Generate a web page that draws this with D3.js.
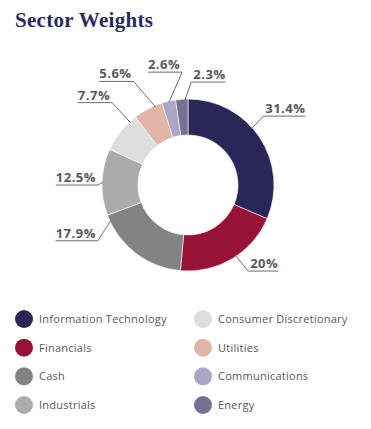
<!DOCTYPE html>
<html>
<head>
<meta charset="utf-8">
<script src="https://cdn.jsdelivr.net/npm/d3@7"></script>
<style>
  body { margin: 0; background: #fff; }
  svg { display: block; }
</style>
</head>
<body>
<svg id="chart"></svg>
<script>
// data
const sectors = ["Information Technology", "Financials", "Cash", "Industrials",
    "Consumer Discretionary", "Utilities", "Communications", "Energy"];
const weights = [31.4, 20, 17.9, 12.5, 7.7, 5.6, 2.6, 2.3];
const labels = ["31.4%", "20%", "17.9%", "12.5%", "7.7%", "5.6%", "2.6%", "2.3%"];
const colors = ["#2a2658", "#961237", "#838383", "#ababab",
    "#dedede", "#e1b5a8", "#aba6c3", "#77718f"];

// leader layout tweaks (degrees / px), so labels don't collide
const leaderShift = [-8, -3, 28, 0, 9, 5, 0, 2];
const leaderBend = [-1, -1, -7, -2, 0, -5, 10, 4];
const leaderRadius = [102, 105, 106, 90, 112, 117, 113, 103];

var width = 371, height = 429;
var cx = 188, cy = 185, outer = 86, inner = 50;

var svg = d3.select("#chart").attr("width", width).attr("height", height);

svg.append("text")
    .attr("x", 15)
    .attr("y", 27)
    .attr("fill", "#2b2a5c")
    .attr("font-family", "'Liberation Serif', serif")
    .attr("font-weight", "bold")
    .attr("font-size", 21)
    .attr("textLength", 138)
    .attr("lengthAdjust", "spacing")
    .text("Sector Weights");

var pie = d3.pie().sort(null).value(d => d)(weights);
var arc = d3.arc().innerRadius(inner).outerRadius(outer);

var g = svg.append("g").attr("transform", "translate(" + cx + "," + cy + ")");

g.selectAll("path.slice")
    .data(pie)
    .enter().append("path")
    .attr("class", "slice")
    .attr("d", arc)
    .attr("fill", (d, i) => colors[i])
    .attr("stroke", "#fff")
    .attr("stroke-width", 0.6);

function polar(deg, r) {
    var a = deg * Math.PI / 180;
    return [r * Math.sin(a), -r * Math.cos(a)];
}

var toDeg = 180 / Math.PI;
var lbl = g.selectAll("g.lbl").data(pie).enter().append("g").attr("class", "lbl");

lbl.each(function (d, i) {
    var sel = d3.select(this);
    var mid = (d.startAngle + d.endAngle) / 2 * toDeg;
    var a0 = mid + leaderShift[i];
    var p0 = polar(a0, outer - 1);
    var p1 = polar(a0 + leaderBend[i], leaderRadius[i]);
    var right = p1[0] > 0;

    var t = sel.append("text")
        .attr("x", p1[0] + (right ? 2 : -2))
        .attr("y", p1[1] - 3)
        .attr("text-anchor", right ? "start" : "end")
        .attr("fill", "#58585a")
        .attr("font-family", "'Open Sans', sans-serif")
        .attr("font-weight", "bold")
        .attr("font-size", 13)
        .attr("letter-spacing", 0.5)
        .text(labels[i]);
    var w = t.node().getComputedTextLength() + 2;

    sel.append("polyline")
        .attr("points", [p0, p1, [p1[0] + (right ? w : -w), p1[1]]].map(p => p.join(",")).join(" "))
        .attr("fill", "none")
        .attr("stroke", "#6d6d6f")
        .attr("stroke-width", 1);
});

// legend
var legend = svg.append("g");
var col = d3.scaleOrdinal().domain([0, 1]).range([24, 203]);
var row = d3.scalePoint().domain(d3.range(4)).range([319, 405]);

var item = legend.selectAll("g")
    .data(sectors)
    .enter().append("g")
    .attr("transform", (d, i) => "translate(" + col(Math.floor(i / 4)) + "," + row(i % 4) + ")");

item.append("circle")
    .attr("r", 9)
    .attr("fill", (d, i) => colors[i]);

item.append("text")
    .attr("x", 15)
    .attr("y", 4)
    .attr("fill", "#58585a")
    .attr("font-family", "'Open Sans', sans-serif")
    .attr("font-size", 11)
    .attr("letter-spacing", 0.25)
    .text(d => d);
</script>
</body>
</html>
